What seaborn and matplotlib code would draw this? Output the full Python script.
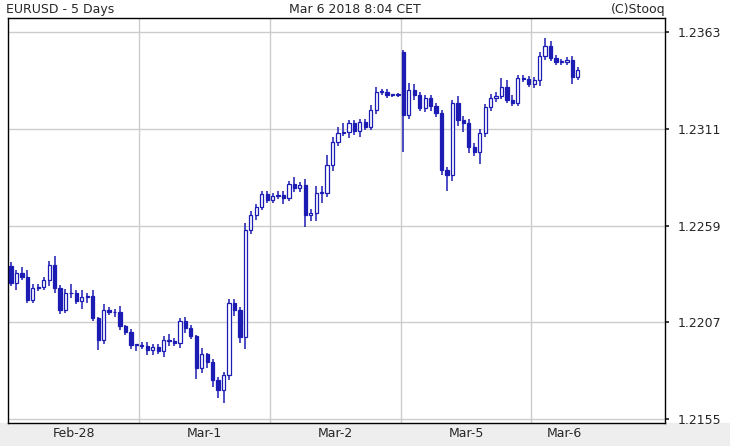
import numpy as np
import pandas as pd
import matplotlib.pyplot as plt
import seaborn as sns

# hourly EURUSD candles, 28 Feb - 6 Mar 2018
first_open = 1.22372
closes = [1.22281, 1.22335, 1.22313, 1.22190, 1.22254, 1.22260, 1.22297, 1.22378,
          1.22254, 1.22136, 1.22227, 1.22227, 1.22184, 1.22206, 1.22211, 1.22093,
          1.21975, 1.22136, 1.22125, 1.22125, 1.22050, 1.22018, 1.21948, 1.21948,
          1.21942, 1.21921, 1.21937, 1.21915, 1.21975, 1.21969, 1.21958, 1.22077,
          1.22039, 1.21996, 1.21824, 1.21899, 1.21856, 1.21760, 1.21706, 1.21786,
          1.22173, 1.22136, 1.21991, 1.22566, 1.22646, 1.22689, 1.22759, 1.22727,
          1.22749, 1.22754, 1.22738, 1.22813, 1.22792, 1.22808, 1.22646, 1.22657,
          1.22765, 1.22765, 1.22915, 1.23039, 1.23087, 1.23093, 1.23141, 1.23098,
          1.23146, 1.23119, 1.23211, 1.23308, 1.23308, 1.23291, 1.23291, 1.23296,
          1.23184, 1.23318, 1.23291, 1.23222, 1.23275, 1.23232, 1.23195, 1.22888,
          1.22861, 1.23248, 1.23157, 1.23141, 1.23012, 1.22985, 1.23087, 1.23227,
          1.23275, 1.23286, 1.23334, 1.23265, 1.23248, 1.23383, 1.23377, 1.23351,
          1.23372, 1.23501, 1.23555, 1.23490, 1.23469, 1.23469, 1.23479, 1.23388,
          1.23426]
# opens follow previous close, except the Monday gap
opens = [first_open] + closes[:-1]
opens[72] = 1.23523
wick_up = [3, 2, 4, 5, 3, 2, 2, 3, 6, 2, 3, 6, 2, 5, 2, 4, 1, 4, 2, 2,
           4, 1, 2, 1, 2, 3, 2, 2, 3, 4, 2, 2, 3, 2, 1, 4, 1, 2, 2, 2,
           3, 3, 2, 5, 3, 2, 2, 2, 2, 3, 3, 2, 5, 2, 4, 3, 5, 5, 7, 3,
           4, 6, 2, 2, 2, 2, 3, 3, 2, 2, 1, 1, 1, 5, 4, 2, 2, 2, 2, 2,
           2, 2, 5, 3, 3, 3, 3, 2, 3, 3, 6, 5, 3, 2, 2, 2, 2, 3, 5, 3,
           2, 2, 2, 3, 2]
wick_dn = [2, 5, 2, 2, 2, 2, 2, 4, 3, 3, 2, 3, 2, 5, 4, 2, 7, 3, 2, 3,
           3, 2, 3, 4, 2, 3, 3, 2, 4, 3, 2, 3, 3, 2, 7, 3, 4, 5, 5, 9,
           3, 4, 4, 8, 3, 3, 2, 2, 2, 2, 4, 2, 3, 3, 8, 4, 5, 7, 3, 4,
           3, 2, 4, 3, 4, 2, 2, 3, 2, 2, 1, 1, 25, 3, 3, 2, 3, 3, 3, 3,
           11, 4, 4, 6, 4, 3, 8, 3, 3, 3, 2, 2, 2, 2, 2, 2, 3, 4, 3, 2,
           2, 2, 2, 5, 2]
day_breaks = [23.5, 47.5, 71.5, 95.5]
day_label_pos = [11.5, 35.5, 59.5, 83.5, 101.5]
day_labels = ["Feb-28", "Mar-1", "Mar-2", "Mar-5", "Mar-6"]
price_ticks = [1.2155, 1.2207, 1.2259, 1.2311, 1.2363]

df = pd.DataFrame({"open": opens, "close": closes})
df["top"] = df[["open", "close"]].max(axis=1)
df["bot"] = df[["open", "close"]].min(axis=1)
df["high"] = df["top"] + np.array(wick_up) * 0.00008
df["low"] = df["bot"] - np.array(wick_dn) * 0.00008
df["up"] = df["close"] >= df["open"]
idx = np.arange(len(df))

sns.set_theme(style="white")
plt.rcParams['font.family'] = ['DejaVu Sans']
fig = plt.figure(figsize=(7.3, 4.46), dpi=100)
ax = fig.add_axes([8 / 730, 23 / 446, 657 / 730, 405 / 446])

blue = "#1c1cb4"
for d in day_breaks:
    ax.axvline(d, color="#cccccc", lw=1, zorder=0)
for t in price_ticks:
    ax.axhline(t, color="#cccccc", lw=1, zorder=0)

ax.vlines(idx, df["low"], df["high"], color=blue, lw=1.1, zorder=2)
body_h = (df["top"] - df["bot"]).clip(lower=0.00003)
ax.bar(idx, body_h, bottom=df["bot"], width=0.6,
       color=np.where(df["up"], "white", blue), edgecolor=blue, lw=0.9, zorder=3)

ax.set_xlim(-0.55, 120)
ax.set_ylim(1.21529, 1.23705)
ax.yaxis.tick_right()
ax.set_yticks(price_ticks)
ax.set_yticklabels([f"{t:.4f}" for t in price_ticks], fontsize=9)
ax.tick_params(axis="y", length=3, pad=6, right=True)
ax.set_xticks(day_label_pos)
ax.set_xticklabels(day_labels, fontsize=9)
ax.tick_params(axis="x", length=0, pad=3)
for s in ax.spines.values():
    s.set_color("black")
    s.set_linewidth(1)

# light strip under the axis
fig.patches.append(plt.Rectangle((0, 0), 1, 23 / 446, transform=fig.transFigure,
                                 color="#eeeeee", zorder=-1))

fig.text(6 / 730, 1 - 3 / 446, "EURUSD - 5 Days", fontsize=9, va="top")
fig.text(355 / 730, 1 - 3 / 446, "Mar 6 2018 8:04 CET", fontsize=9, va="top", ha="center")
fig.text(666 / 730, 1 - 3 / 446, "(C)Stooq", fontsize=9, va="top", ha="right")

fig.savefig("out.png", dpi=100)
